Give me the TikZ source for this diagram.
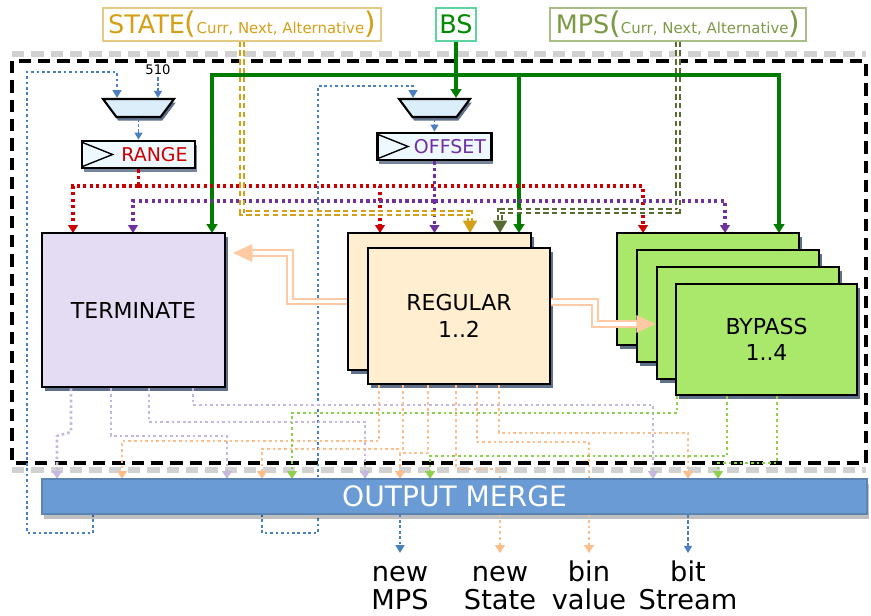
\documentclass[tikz,border=0pt]{standalone}
\usepackage{fontspec}
\setmainfont{DejaVu Sans}
\usetikzlibrary{arrows.meta,shapes.geometric,shadows}
\definecolor{stategold}{HTML}{D4A017}
\definecolor{stateframe}{HTML}{E3CB85}
\definecolor{bsgreen}{HTML}{008A00}
\definecolor{bsframe}{HTML}{5FD3A0}
\definecolor{mpsolive}{HTML}{7C9A45}
\definecolor{mpsframe}{HTML}{A9BD86}
\definecolor{mpsdark}{HTML}{556B2F}
\definecolor{rangered}{HTML}{CC0000}
\definecolor{offpurple}{HTML}{7030A0}
\definecolor{loopblue}{HTML}{4A7FC1}
\definecolor{lavline}{HTML}{C6B8DD}
\definecolor{orgline}{HTML}{FDBE8C}
\definecolor{grnline}{HTML}{8DD04E}
\definecolor{termfill}{HTML}{E4DCF2}
\definecolor{regfill}{HTML}{FFEECF}
\definecolor{bypfill}{HTML}{AAE86C}
\definecolor{mergefill}{HTML}{6A9BD4}
\definecolor{muxfill}{HTML}{DDEEFB}
\definecolor{regboxfill}{HTML}{EEF8FF}
\definecolor{shadowblue}{HTML}{1A3358}
\definecolor{peach}{HTML}{FFC9A3}
\newcommand{\toplabel}[2]{{\fontsize{14.5}{14}\selectfont #1}{\fontsize{17}{17}\selectfont(}{\fontsize{8.5}{9}\selectfont #2}{\fontsize{17}{17}\selectfont)}}
\begin{document}
\begin{tikzpicture}[x=0.02cm, y=-0.02cm, >={Triangle[width=5.5pt,length=4.5pt]},
	blk/.style={draw, line width=1.6pt, align=center, inner sep=0pt, font=\fontsize{12.5}{15}\selectfont,
		drop shadow={shadow xshift=1.5pt, shadow yshift=-2.5pt, fill=shadowblue, opacity=.7}},
	muxbox/.style={trapezium, trapezium angle=73, shape border rotate=180, trapezium stretches=true,
		draw, line width=1.2pt, fill=muxfill, minimum width=71*\px, minimum height=18*\px, inner sep=1pt,
		drop shadow={shadow xshift=1pt, shadow yshift=-2pt, fill=shadowblue, opacity=.7}},
	regbox/.style={draw, line width=1.6pt, fill=regboxfill, minimum width=113*\px, minimum height=27*\px, inner sep=0pt,
		drop shadow={shadow xshift=1pt, shadow yshift=-2.5pt, fill=shadowblue, opacity=.6}},
	toplbl/.style={draw=#1, line width=0.8pt, fill=white, minimum height=33*\px, inner sep=0pt},
	outlbl/.style={anchor=north, align=center, inner xsep=0pt, inner ysep=4pt, font=\fontsize{15.5}{16}\selectfont},
	fbln/.style={loopblue, line width=1.5pt, dash pattern=on 1.5pt off 1.6pt, >={Triangle[width=5pt,length=4.5pt]}},
	thinbl/.style={loopblue, line width=0.8pt, dash pattern=on 2pt off 1.2pt, >={Triangle[width=4.5pt,length=4pt]}},
	bsln/.style={bsgreen!90!black, line width=1.8pt, >={Triangle[width=6pt,length=5pt]}},
	rngln/.style={rangered, line width=1.8pt, dash pattern=on 1.8pt off 1.9pt},
	offln/.style={offpurple, line width=1.8pt, dash pattern=on 1.8pt off 1.9pt},
	stateln/.style={stategold, line width=0.9pt, double=white, double distance=1.6pt, dash pattern=on 3pt off 2pt},
	mpsln/.style={mpsdark, line width=0.9pt, double=white, double distance=1.6pt, dash pattern=on 3pt off 2pt},
	lavln/.style={lavline, line width=1.5pt, dash pattern=on 1.5pt off 1.7pt, >={Triangle[width=5.5pt,length=4.5pt]}},
	orgln/.style={orgline, line width=1.5pt, dash pattern=on 1.5pt off 1.7pt, >={Triangle[width=5.5pt,length=4.5pt]}},
	grnln/.style={grnline, line width=1.5pt, dash pattern=on 1.5pt off 1.7pt, >={Triangle[width=5.5pt,length=4.5pt]}},
	peachpipe/.style={peach, line width=1pt, double=white, double distance=2pt},
	pipetip/.style={peach, line width=1pt, -{Triangle[width=10pt,length=11pt]}}]
	\def\px{0.02cm}
	\useasboundingbox (0,0) rectangle (871,615);
	% frame
	\foreach \y in {54,470}\draw[black!18, line width=3.5pt, dash pattern=on 7pt off 4pt] (12,\y)--(866,\y);
	\draw[line width=2.3pt, dash pattern=on 7pt off 4pt] (12,61) rectangle (866,463);
	% inputs
	\node[toplbl=stateframe, text=stategold, minimum width=278*\px] (state) at (242,24.5) {\toplabel{STATE}{Curr, Next, Alternative}};
	\node[toplbl=bsframe, text=bsgreen, minimum width=40*\px, font=\fontsize{14.5}{14}\selectfont] (bs) at (456,24.5) {BS};
	\node[toplbl=mpsframe, text=mpsolive, minimum width=256*\px] (mps) at (678,24.5) {\toplabel{MPS}{Curr, Next, Alternative}};
	% registers
	\node[muxbox] (muxR) at (138.5,108) {};
	\node[muxbox] (muxO) at (434.5,108) {};
	\node[regbox] (rng) at (138.5,154.5) {};
	\node[regbox, minimum width=114*\px] (off) at (434.5,146.5) {};
	\foreach \r in {rng,off}\draw[line width=0.8pt] (\r.west) ++(2,-12)--++(30,12)--++(-30,12);
	\node[font=\fontsize{10.8}{12}\selectfont, text=rangered] (rngT) at (154.5,155) {RANGE};
	\node[font=\fontsize{10.8}{12}\selectfont, text=offpurple] (offT) at (450,147) {OFFSET};
	\node[font=\fontsize{7.5}{8}\selectfont, inner sep=1pt] (k510) at (158,70) {510};
	\draw[thinbl,->] (k510)--(158,0 |- muxR.north);
	\draw[thinbl,->] (muxR.south)--(rng.north);
	\draw[thinbl,->] (muxO.south)--(off.north);
	% feedback loops
	\draw[fbln,->] (93,514)--(93,533) -| (27,72) -| (117,0 |- muxR.north);
	\draw[fbln,->] (262,514)--(262,533) -| (318,86) -| (413,0 |- muxO.north);
	% BS
	\draw[bsln,->] (bs)--(456,0 |- muxO.north);
	\foreach \x in {212,519,779}\draw[bsln,->] (456,75) -| (\x,233);
	% range / offset
	\draw[rngln] (rng.south)--(138.5,186);
	\foreach \x in {73,380,643}\draw[rngln,->] (138.5,186) -| (\x,233);
	\draw[offln] (off.south)--(434.5,201);
	\foreach \x in {133,434.5,725}\draw[offln,->] (434.5,201) -| (\x,233);
	% state, mps
	\draw[stateln] (state.south) |- (470,213)--(470,222);
	\draw[stategold, line width=0.8pt, -{Triangle[width=8pt,length=7pt]}] (470,222)--(470,233);
	\draw[mpsln] (mps.south) |- (500,211)--(500,222);
	\draw[mpsdark, line width=0.8pt, -{Triangle[width=8pt,length=7pt]}] (500,222)--(500,233);
	% blocks
	\node[blk, fill=termfill, minimum width=183*\px, minimum height=154*\px] (term) at (133.5,310) {TERMINATE};
	\node[blk, fill=regfill, minimum width=183*\px, minimum height=137*\px] (regB) at (439.5,301.5) {};
	\node[blk, fill=regfill, minimum width=182*\px, minimum height=136*\px] (regF) at (459,316) {REGULAR\\1..2};
	\foreach \i/\x/\y in {1/708/289,2/728/306,3/748/323}
		\node[blk, fill=bypfill, minimum width=182*\px, minimum height=112*\px] (byp\i) at (\x,\y) {};
	\node[blk, fill=bypfill, minimum width=181*\px, minimum height=111*\px] (byp4) at (766.5,339.5) {BYPASS\\1..4};
	% pipes
	\coordinate (tin) at (233,253);
	\draw[peachpipe] (regB.west) -| (290,253)--(252,253);
	\draw[pipetip] (252,253)--(tin);
	\draw[peachpipe] (regF.east |- 0,302) -| (595,324)--(638,324);
	\draw[pipetip] (638,324)--(byp3.west |- 0,324);
	% to output merge
	\draw[lavln,->] (71,0 |- term.south)--(71,432)--(57,436)--(57,479);
	\foreach \a/\y/\b in {111/436/227,149/422/365,193/405/653}
		\draw[lavln,->] (\a,0 |- term.south) |- (\b,\y)--(\b,479);
	\foreach \a/\y/\b in {379/441/122,403/449/262,428/453/400,499/433/688}
		\draw[orgln,->] (\a,0 |- regF.south) |- (\b,\y)--(\b,479);
	\foreach \a/\y/\b in {456/469/500,477/442/589}
		\draw[orgln] (\a,0 |- regF.south) |- (\b,\y)--(\b,480);
	\foreach \a/\y/\b in {677/413/292,727/456/430,777/463/718}
		\draw[grnln,->] (\a,0 |- byp4.south) |- (\b,\y)--(\b,479);
	\node[fill=mergefill, draw=mergefill!85!black, line width=0.6pt, text=white, font=\fontsize{16}{18}\selectfont,
		minimum width=825*\px, minimum height=35*\px, inner sep=0pt,
		drop shadow={shadow xshift=1pt, shadow yshift=-3pt, fill=black, opacity=.25}] (merge) at (454.5,496.5) {OUTPUT MERGE};
	% outputs
	\node[outlbl] (oMPS) at (400,553) {\vphantom{b}new\\MPS};
	\node[outlbl] (oState) at (500,553) {\vphantom{b}new\\State};
	\node[outlbl] (oBin) at (589,553) {bin\\value};
	\node[outlbl] (oBit) at (688,553) {bit\\Stream};
	\draw[fbln,->] (oMPS.north |- merge.south)--(oMPS);
	\draw[orgln,->] (oState.north |- merge.south)--(oState);
	\draw[orgln,->] (oBin.north |- merge.south)--(oBin);
	\draw[thinbl,->] (oBit.north |- merge.south)--(oBit);
\end{tikzpicture}
\end{document}
